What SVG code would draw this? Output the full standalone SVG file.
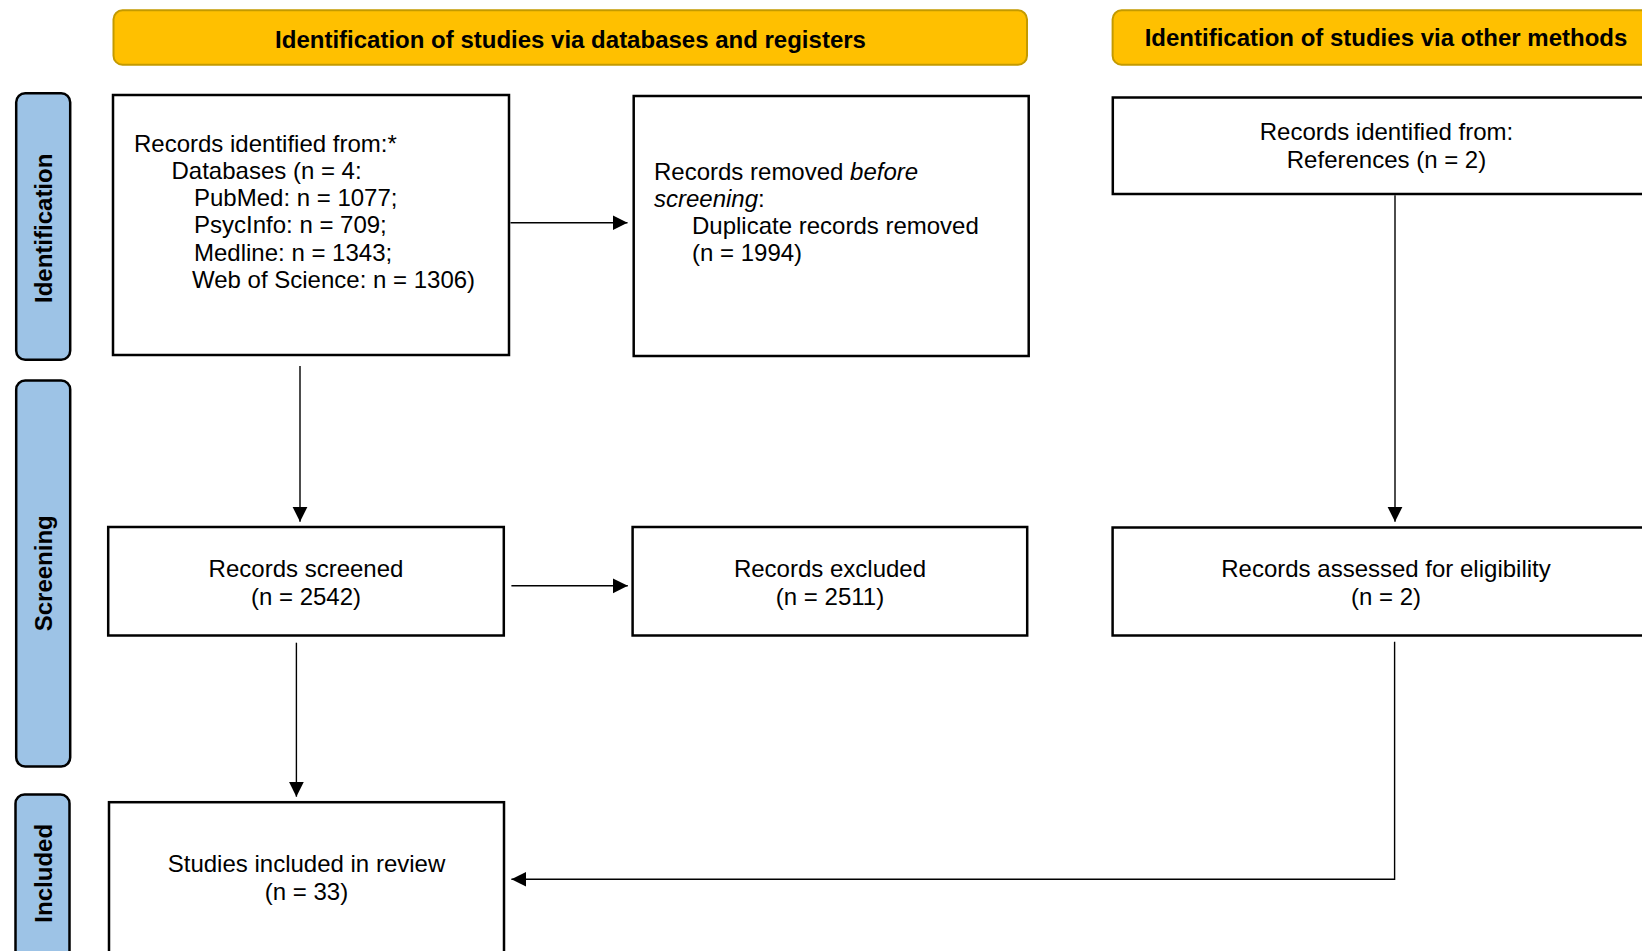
<svg xmlns="http://www.w3.org/2000/svg" width="1642" height="951" viewBox="0 0 1642 951">
  <defs>
    <style>
      .hdr { fill: #FFC000; stroke: #C49A00; stroke-width: 2; }
      .hdrtxt { font-family: "Liberation Sans", Arial, sans-serif; font-weight: bold; font-size: 24px; fill: #000; text-anchor: middle; }
      .side { fill: #9DC3E6; stroke: #000; stroke-width: 2.5; }
      .sidetxt { font-family: "Liberation Sans", Arial, sans-serif; font-weight: bold; font-size: 24px; fill: #000; text-anchor: middle; }
      .box { fill: #fff; stroke: #000; stroke-width: 2.5; }
      .txt { font-family: "Liberation Sans", Arial, sans-serif; font-size: 24px; fill: #000; }
      .ctr { text-anchor: middle; }
      .conn { fill: none; stroke: #000; stroke-width: 1.4; }
    </style>
    <marker id="arrow" markerUnits="userSpaceOnUse" markerWidth="16" markerHeight="16" refX="15" refY="7.5" orient="auto">
      <path d="M0,0 L15,7.5 L0,15 z" fill="#000"/>
    </marker>
  </defs>
  <rect width="1642" height="951" fill="#fff"/>

  <g id="header-databases">
    <rect class="hdr" x="113.5" y="10.3" width="913.5" height="54.5" rx="9"/>
    <text class="hdrtxt" x="570.5" y="47.5">Identification of studies via databases and registers</text>
  </g>
  <g id="header-other">
    <rect class="hdr" x="1112.6" y="10.3" width="560" height="54.5" rx="9"/>
    <text class="hdrtxt" x="1386" y="46">Identification of studies via other methods</text>
  </g>

  <g id="phase-identification">
    <rect class="side" x="16.2" y="93.2" width="54" height="266.6" rx="9"/>
    <text class="sidetxt" transform="translate(52,228.3) rotate(-90)">Identification</text>
  </g>
  <g id="phase-screening">
    <rect class="side" x="16.2" y="380.5" width="54" height="386" rx="9"/>
    <text class="sidetxt" transform="translate(52,573.3) rotate(-90)">Screening</text>
  </g>
  <g id="phase-included">
    <rect class="side" x="15.5" y="794.5" width="54" height="200" rx="9"/>
    <text class="sidetxt" transform="translate(51.5,873.3) rotate(-90)">Included</text>
  </g>

  <g id="records-identified-db">
    <rect class="box" x="113" y="95" width="396" height="260"/>
    <text class="txt" x="134" y="152">Records identified from:*</text>
    <text class="txt" x="171.5" y="178.5">Databases (n = 4:</text>
    <text class="txt" x="194" y="206">PubMed: n = 1077;</text>
    <text class="txt" x="194" y="233">PsycInfo: n = 709;</text>
    <text class="txt" x="194" y="260.5">Medline: n = 1343;</text>
    <text class="txt" x="192" y="288">Web of Science: n = 1306)</text>
  </g>

  <g id="records-removed">
    <rect class="box" x="633.7" y="96" width="395" height="260"/>
    <text class="txt" x="654" y="179.5">Records removed <tspan font-style="italic">before</tspan></text>
    <text class="txt" x="654" y="207"><tspan font-style="italic">screening</tspan>:</text>
    <text class="txt" x="692" y="234">Duplicate records removed</text>
    <text class="txt" x="692" y="261">(n = 1994)</text>
  </g>

  <g id="records-identified-other">
    <rect class="box" x="1112.8" y="97.5" width="560" height="96.5"/>
    <text class="txt ctr" x="1386.5" y="140">Records identified from:</text>
    <text class="txt ctr" x="1386.5" y="167.5">References (n = 2)</text>
  </g>

  <g id="records-screened">
    <rect class="box" x="108.2" y="527" width="395.6" height="108.5"/>
    <text class="txt ctr" x="306" y="577">Records screened</text>
    <text class="txt ctr" x="306" y="605">(n = 2542)</text>
  </g>

  <g id="records-excluded">
    <rect class="box" x="632.6" y="527" width="394.6" height="108.5"/>
    <text class="txt ctr" x="830" y="577">Records excluded</text>
    <text class="txt ctr" x="830" y="605">(n = 2511)</text>
  </g>

  <g id="records-eligibility">
    <rect class="box" x="1112.6" y="527.5" width="560" height="108"/>
    <text class="txt ctr" x="1386" y="577">Records assessed for eligibility</text>
    <text class="txt ctr" x="1386" y="605">(n = 2)</text>
  </g>

  <g id="studies-included">
    <rect class="box" x="109" y="802.2" width="395" height="200"/>
    <text class="txt ctr" x="306.5" y="872">Studies included in review</text>
    <text class="txt ctr" x="306.5" y="900">(n = 33)</text>
  </g>

  <g id="connectors">
    <line class="conn" x1="510.5" y1="222.7" x2="627.5" y2="222.7" marker-end="url(#arrow)"/>
    <line class="conn" x1="300" y1="366" x2="300" y2="521.7" marker-end="url(#arrow)"/>
    <line class="conn" x1="1395" y1="195.3" x2="1395" y2="521.7" marker-end="url(#arrow)"/>
    <line class="conn" x1="511.4" y1="585.8" x2="627.8" y2="585.8" marker-end="url(#arrow)"/>
    <line class="conn" x1="296.4" y1="642.7" x2="296.4" y2="796.7" marker-end="url(#arrow)"/>
    <polyline class="conn" points="1394.6,641.7 1394.6,879.3 511.4,879.3" marker-end="url(#arrow)"/>
  </g>
</svg>
